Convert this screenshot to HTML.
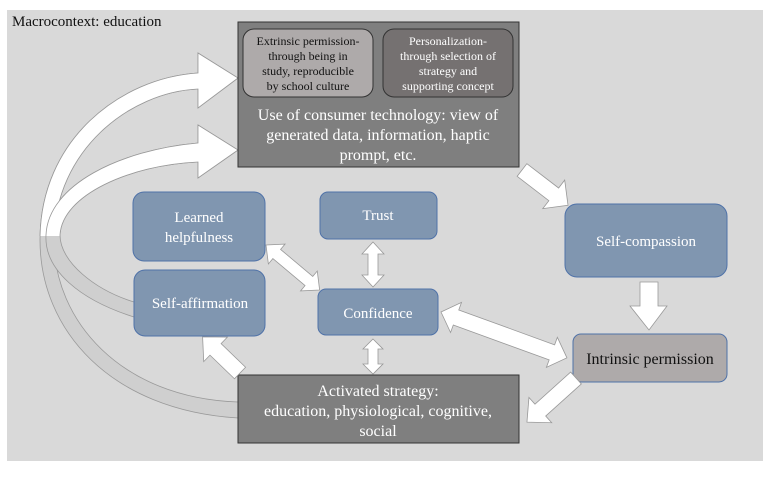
<!DOCTYPE html>
<html><head><style>
body{margin:0;width:770px;height:480px;background:#fff;overflow:hidden;font-family:"Liberation Serif",serif}
</style></head><body>
<svg width="770" height="480" xmlns="http://www.w3.org/2000/svg" style="position:absolute;left:0;top:0;font-family:'Liberation Serif',serif">
<defs>
<clipPath id="top"><rect x="0" y="0" width="770" height="236"/></clipPath>
</defs>
<rect x="7" y="10" width="756" height="451" fill="#d9d9d9"/>
<text x="12" y="26" font-size="15" fill="#111">Macrocontext: education</text>

<g stroke="#999" stroke-width="0.8">
<path d="M238,418 C110,410 40,330 40,240 C40,140 120,78 198,73 L198,53 L238,78 L198,108 L198,89 C130,92 55,150 54,240 C54,320 120,398 238,402 Z" fill="#cfcfcf"/>
<path d="M134,317 C80,300 44,270 46,235 C48,185 120,150 198,143 L198,125 L238,150 L198,178 L198,162 C130,165 62,195 60,235 C60,262 95,290 134,302 Z" fill="#cfcfcf"/>
<g clip-path="url(#top)">
<path d="M238,418 C110,410 40,330 40,240 C40,140 120,78 198,73 L198,53 L238,78 L198,108 L198,89 C130,92 55,150 54,240 C54,320 120,398 238,402 Z" fill="#fff"/>
<path d="M134,317 C80,300 44,270 46,235 C48,185 120,150 198,143 L198,125 L238,150 L198,178 L198,162 C130,165 62,195 60,235 C60,262 95,290 134,302 Z" fill="#fff"/>
</g>
</g>

<rect x="238" y="22" width="281" height="145" fill="#7f7f7f" stroke="#333" stroke-width="1"/>
<rect x="243" y="29" width="130" height="68" rx="11" fill="#aeaaaa" stroke="#333" stroke-width="1"/>
<rect x="383" y="29" width="130" height="68" rx="11" fill="#757171" stroke="#333" stroke-width="1"/>
<g font-size="12" text-anchor="middle" fill="#111">
<text x="308" y="45">Extrinsic permission-</text>
<text x="308" y="60">through being in</text>
<text x="308" y="75">study, reproducible</text>
<text x="308" y="90">by school culture</text>
</g>
<g font-size="12" text-anchor="middle" fill="#fff">
<text x="448" y="45">Personalization-</text>
<text x="448" y="60">through selection of</text>
<text x="448" y="75">strategy and</text>
<text x="448" y="90">supporting concept</text>
</g>
<g font-size="16" text-anchor="middle" fill="#fff">
<text x="378" y="120">Use of consumer technology: view of</text>
<text x="378" y="140">generated data, information, haptic</text>
<text x="378" y="160">prompt, etc.</text>
</g>

<g fill="#8096b0" stroke="#4f72a8" stroke-width="1">
<rect x="133" y="192" width="132" height="69" rx="11"/>
<rect x="320" y="192" width="117" height="47" rx="8"/>
<rect x="134" y="270" width="131" height="66" rx="11"/>
<rect x="318" y="289" width="120" height="46" rx="8"/>
<rect x="565" y="204" width="162" height="73" rx="12"/>
</g>
<rect x="573" y="334" width="154" height="48" rx="8" fill="#aeaaaa" stroke="#4f72a8" stroke-width="1"/>
<g font-size="15" text-anchor="middle" fill="#fff">
<text x="199" y="222">Learned</text>
<text x="199" y="242">helpfulness</text>
<text x="378" y="220">Trust</text>
<text x="200" y="308">Self-affirmation</text>
<text x="378" y="318">Confidence</text>
<text x="646" y="246">Self-compassion</text>
</g>
<text x="650" y="364" font-size="16" text-anchor="middle" fill="#111">Intrinsic permission</text>

<rect x="238" y="375" width="281" height="68" fill="#7f7f7f" stroke="#333" stroke-width="1"/>
<g font-size="16" text-anchor="middle" fill="#fff">
<text x="378" y="396">Activated strategy:</text>
<text x="378" y="416">education, physiological,  cognitive,</text>
<text x="378" y="436">social</text>
</g>

<g fill="#fff" stroke="#999" stroke-width="0.8">
<g transform="translate(522,170) rotate(37.5)"><polygon points="0,-8 40,-8 40,-18 58,0 40,18 40,8 0,8"/></g>
<polygon points="640,282 658,282 658,306 667,306 649,330 630,306 640,306"/>
<g transform="translate(576,378) rotate(138)"><polygon points="0,-8 48,-8 48,-17 66,0 48,17 48,8 0,8"/></g>
<g transform="translate(240,373) rotate(224)"><polygon points="0,-8 34,-8 34,-17 52,0 34,17 34,8 0,8"/></g>
<g transform="translate(266,245) rotate(40)"><polygon points="0,0 14,-13 14,-6 56,-6 56,-13 70,0 56,13 56,6 14,6 14,13"/></g>
<g transform="translate(373,242) rotate(90)"><polygon points="0,0 12,-11 12,-5 33,-5 33,-11 45,0 33,11 33,5 12,5 12,11"/></g>
<g transform="translate(373,339) rotate(90)"><polygon points="0,0 10,-10 10,-5 25,-5 25,-10 35,0 25,10 25,5 10,5 10,10"/></g>
<g transform="translate(441,312) rotate(20)"><polygon points="0,0 16,-16 16,-8 118,-8 118,-16 134,0 118,16 118,8 16,8 16,16"/></g>
</g>
</svg>
</body></html>
